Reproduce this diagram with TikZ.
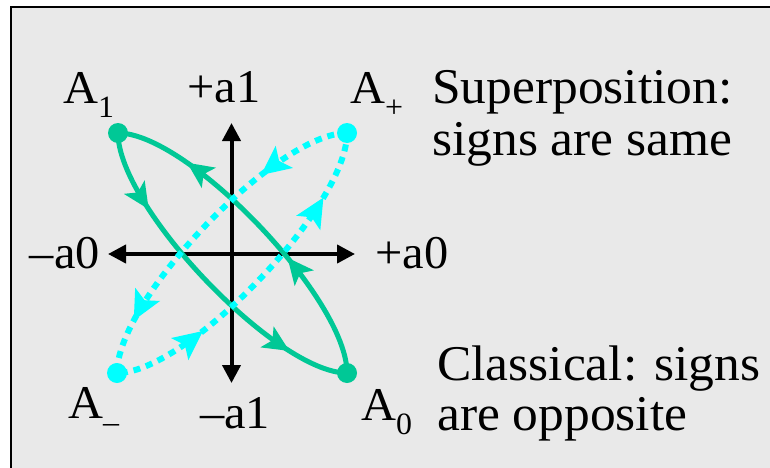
\documentclass[tikz,border=0pt]{standalone}
\usepackage{graphicx}
\usepackage{fontspec}
\setmainfont{Liberation Serif}
\usetikzlibrary{arrows.meta,decorations.markings}

\definecolor{classgreen}{RGB}{0,200,150}
\definecolor{supercyan}{RGB}{0,255,255}
\definecolor{slidegray}{RGB}{233,233,233}

\newcommand{\wide}[1]{\scalebox{1.03}[1]{#1}}
\newcommand{\low}[1]{\raisebox{-14pt}{\fontsize{31}{31}\selectfont #1}}

\tikzset{
  axis/.style={line width=4pt, >={Triangle[length=18pt,width=18pt]}, <->},
  classic/.style={draw=classgreen, line width=5pt, postaction={decorate},
    decoration={markings,
      mark=at position 0.12 with {\arrow[classgreen]{Stealth[length=26pt,width=24pt,inset=6pt]}},
      mark=at position 0.41 with {\arrow[classgreen]{Stealth[length=26pt,width=24pt,inset=6pt]}},
      mark=at position 0.69 with {\arrow[classgreen]{Stealth[length=26pt,width=24pt,inset=6pt]}},
      mark=at position 0.89 with {\arrow[classgreen]{Stealth[length=26pt,width=24pt,inset=6pt]}}}},
  superpos/.style={draw=supercyan, line width=6pt, dash pattern=on 7pt off 6pt, postaction={decorate},
    decoration={markings,
      mark=at position 0.14 with {\arrow[supercyan]{Stealth[length=29pt,width=27pt,inset=6pt]}},
      mark=at position 0.42 with {\arrow[supercyan]{Stealth[length=29pt,width=27pt,inset=6pt]}},
      mark=at position 0.64 with {\arrow[supercyan]{Stealth[length=29pt,width=27pt,inset=6pt]}},
      mark=at position 0.90 with {\arrow[supercyan]{Stealth[length=29pt,width=27pt,inset=6pt]}}}},
  dot/.style={circle, inner sep=0pt, minimum size=20pt},
  lbl/.style={inner sep=0pt, font=\fontsize{47}{52}\selectfont},
  txt/.style={inner sep=0pt, anchor=base west, font=\fontsize{50}{56}\selectfont}
}

\begin{document}
\begin{tikzpicture}[x=1pt,y=1pt]
	\useasboundingbox (0,0) rectangle (770,467);
	\clip (0,0) rectangle (770,467);
	% slide background
	\fill[white] (0,0) rectangle (770,467);
	\draw[fill=slidegray, line width=2pt] (10.5,-20) rectangle (800,459.5);
	
	% axes
	\coordinate (a0m) at (108,213);
	\coordinate (a0p) at (355,213);
	\coordinate (a1p) at (231.5,344);
	\coordinate (a1m) at (231.5,84);
	\draw[axis] (a0m) -- (a0p);
	\draw[axis] (a1m) -- (a1p);
	
	% end points
	\coordinate (A1) at (118,334);
	\coordinate (A0) at (347,94);
	\coordinate (Ap) at (347,334);
	\coordinate (Am) at (117,94);
	
	% classical, signs opposite
	\draw[classic] (A1) .. controls +(0,-74) and +(-70,0) .. (A0)
		.. controls +(0,74) and +(70,0) .. (A1);
	% superposition, signs same
	\draw[superpos] (Ap) .. controls +(-70,0) and +(0,74) .. (Am)
		.. controls +(70,0) and +(0,-74) .. (Ap);
	
	\node[dot, fill=classgreen] (d1) at (A1) {};
	\node[dot, fill=classgreen] (d0) at (A0) {};
	\node[dot, fill=supercyan] (dp) at (Ap) {};
	\node[dot, fill=supercyan] (dm) at (Am) {};
	
	% labels
	\node[lbl, anchor=base west] (la1p) at (187,365) {\wide{+a1}};
	\node[lbl, anchor=base west] (la1m) at (200,39) {\wide{–a1}};
	\node[lbl, anchor=base east] (la0m) at (100,199) {\wide{–a0}};
	\node[lbl, anchor=base west] (la0p) at (375,199) {\wide{+a0}};
	\node[lbl, anchor=base west] (lA1) at (63,364) {\wide{A\low{1}}};
	\node[lbl, anchor=base west] (lAp) at (350,364) {\wide{A\low{+}}};
	\node[lbl, anchor=base west] (lAm) at (68,49) {\wide{A\low{–}}};
	\node[lbl, anchor=base west] (lA0) at (361,47) {\wide{A\low{0}}};
	
	\node[txt] (sup1) at (432,363) {\wide{Superposition:}};
	\node[txt] (sup2) at (432,312) {\wide{signs are same}};
	\node[txt] (cls1) at (437,87) {\wide{Classical: signs}};
	\node[txt] (cls2) at (437,37) {\wide{are opposite}};
\end{tikzpicture}
\end{document}
